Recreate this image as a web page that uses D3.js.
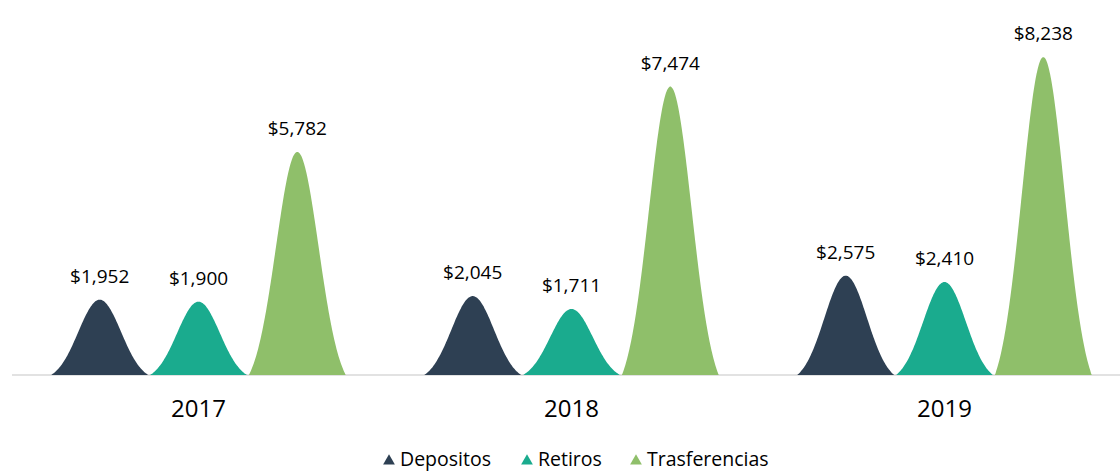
<!DOCTYPE html>
<html>
<head>
<meta charset="utf-8">
<script src="https://cdn.jsdelivr.net/npm/d3@7"></script>
<style>
  body { margin: 0; background: #fff; }
  text { font-family: "Open Sans", sans-serif; fill: #000; }
</style>
</head>
<body>
<div id="chart"></div>
<script>
// data
const years = ["2017", "2018", "2019"];
const seriesNames = ["Depositos", "Retiros", "Trasferencias"];
const depositos = [1952, 2045, 2575];
const retiros = [1900, 1711, 2410];
const trasferencias = [5782, 7474, 8238];
const seriesColors = ["#2e4053", "#1aab8e", "#8fbf6a"];

const width = 1120, height = 471;
const margin = { left: 12, right: -11, baseline: 375 };

let values = [depositos, retiros, trasferencias];
let rows = [];
years.forEach(function(yr, i) {
  seriesNames.forEach(function(s, j) {
    rows.push({ year: yr, series: s, value: values[j][i] });
  });
});

const svg = d3.select("#chart").append("svg")
    .attr("width", width)
    .attr("height", height);

const x0 = d3.scaleBand()
    .domain(years)
    .range([margin.left, width - margin.right]);

const x1 = d3.scaleBand()
    .domain(seriesNames)
    .range([x0.bandwidth() * 0.1, x0.bandwidth() * 0.9])
    .padding(0.02);

const y = d3.scaleLinear()
    .domain([0, 9000])
    .range([margin.baseline, margin.baseline - 9000 * 0.0386]);

const color = d3.scaleOrdinal().domain(seriesNames).range(seriesColors);

// bell shaped profile of each mark (0..1 across the band)
const sigma = 0.22;
const tail = Math.exp(-0.25 / (2 * sigma * sigma));
function profile(t) {
  let u = t - 0.5;
  return Math.max(0, (Math.exp(-u * u / (2 * sigma * sigma)) - tail) / (1 - tail));
}
const steps = d3.range(0, 1.0001, 0.01);

const area = d3.area()
    .x(d => d.x)
    .y0(y(0))
    .y1(d => d.y)
    .curve(d3.curveBasis);

// baseline
svg.append("line")
    .attr("x1", margin.left)
    .attr("x2", width)
    .attr("y1", y(0))
    .attr("y2", y(0))
    .attr("stroke", "#d9d9d9")
    .attr("stroke-width", 1.5);

const g = svg.append("g");

g.selectAll(".peak")
    .data(rows)
    .enter().append("path")
    .attr("class", "peak")
    .attr("fill", d => color(d.series))
    .attr("d", function(d) {
      let left = x0(d.year) + x1(d.series);
      let bw = x1.bandwidth();
      return area(steps.map(t => ({ x: left + t * bw, y: y(d.value * profile(t)) })));
    });

g.selectAll(".value-label")
    .data(rows)
    .enter().append("text")
    .attr("class", "value-label")
    .attr("x", d => x0(d.year) + x1(d.series) + x1.bandwidth() / 2)
    .attr("y", d => y(d.value) - 17)
    .attr("text-anchor", "middle")
    .style("font-size", "19px")
    .text(d => "$" + d3.format(",")(d.value));

// x axis labels
svg.append("g")
    .attr("transform", "translate(0," + y(0) + ")")
    .call(d3.axisBottom(x0).tickSize(0).tickPadding(25))
    .call(g => g.select(".domain").remove())
    .selectAll("text")
    .style("font-size", "24px")
    .style("font-family", "'Open Sans', sans-serif")
    .attr("fill", "#000");

// legend
const legendX = [389, 527, 636];
const legend = svg.append("g").attr("class", "legend");
seriesNames.forEach(function(s, i) {
  let item = legend.append("g").attr("transform", "translate(" + legendX[i] + ",460)");
  item.append("path")
      .attr("d", d3.symbol(d3.symbolTriangle, 60)())
      .attr("transform", "translate(0,1)")
      .attr("fill", color(s));
  item.append("text")
      .attr("x", 11)
      .attr("y", 6)
      .style("font-size", "19.5px")
      .text(s);
});
</script>
</body>
</html>
